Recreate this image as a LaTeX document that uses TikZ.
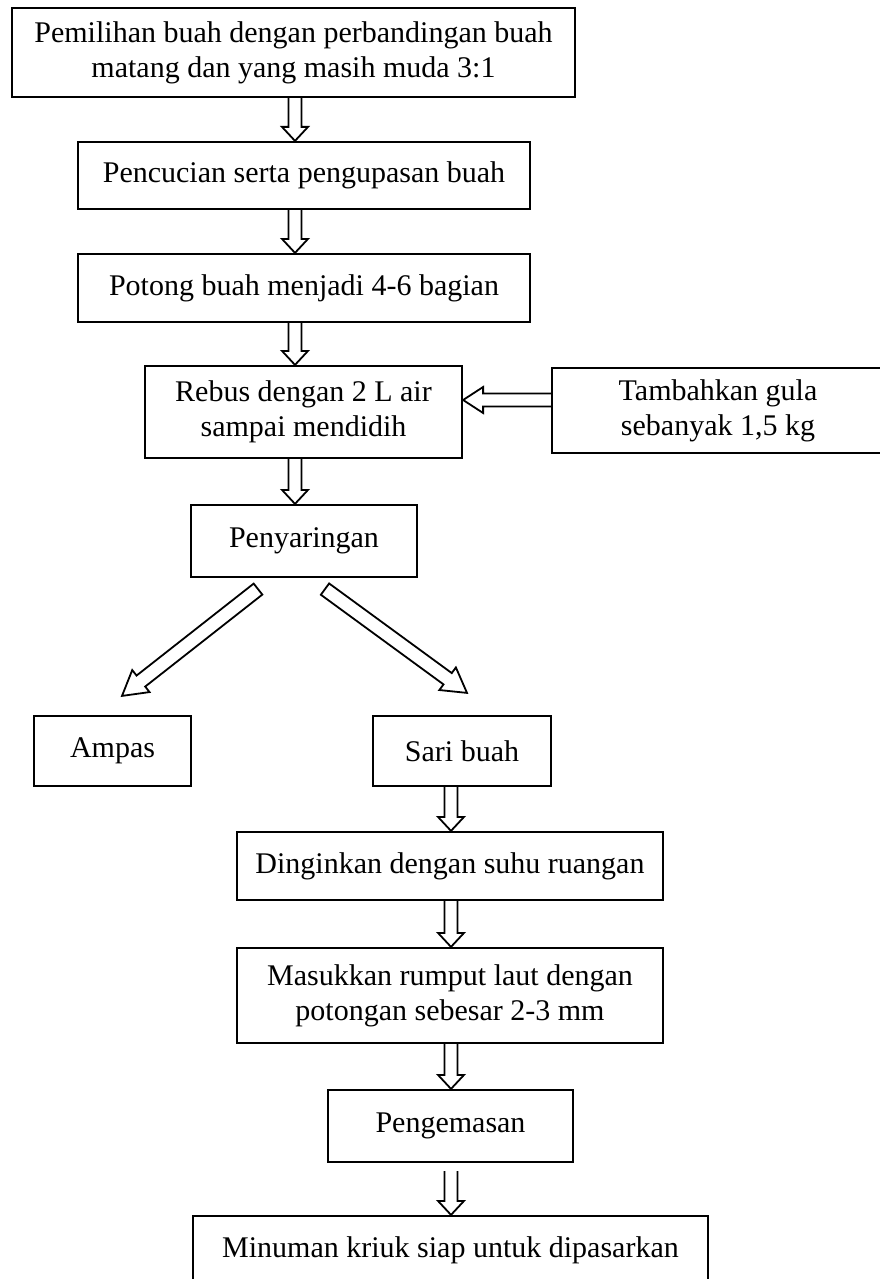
\documentclass[tikz,border=0pt]{standalone}
\usepackage{fontspec}
\setmainfont{Liberation Serif}
\usetikzlibrary{calc}
\tikzset{
  box/.style={draw, line width=2.2pt, align=center, inner sep=0pt,
    font=\fontsize{30}{35}\selectfont},
  barrow/.style={draw, line width=1.8pt, line join=miter},
}
% hollow block arrow from #2 to #3, head length #1 (open tail)
\newcommand\blockarrow[3][14]{%
  \path #2; \pgfgetlastxy{\bax}{\bay}%
  \path #3; \pgfgetlastxy{\bbx}{\bby}%
  \pgfmathsetmacro\bang{atan2((\bby)-(\bay),(\bbx)-(\bax))}%
  \pgfmathsetmacro\blen{veclen((\bbx)-(\bax),(\bby)-(\bay))}%
  \pgfmathsetmacro\bbase{\blen-#1}%
  \begin{scope}[shift={(\bax,\bay)},rotate=\bang]
    \draw[barrow] (0pt,-6.5pt) -- (\bbase pt,-6.5pt) -- (\bbase pt,-13pt)
      -- (\blen pt,0pt) -- (\bbase pt,13pt) -- (\bbase pt,6.5pt) -- (0pt,6.5pt);
  \end{scope}}
% same with closed tail
\newcommand\closedarrow[3][14]{%
  \path #2; \pgfgetlastxy{\bax}{\bay}%
  \path #3; \pgfgetlastxy{\bbx}{\bby}%
  \pgfmathsetmacro\bang{atan2((\bby)-(\bay),(\bbx)-(\bax))}%
  \pgfmathsetmacro\blen{veclen((\bbx)-(\bax),(\bby)-(\bay))}%
  \pgfmathsetmacro\bbase{\blen-#1}%
  \begin{scope}[shift={(\bax,\bay)},rotate=\bang]
    \draw[barrow] (0pt,-7pt) -- (\bbase pt,-7pt) -- (\bbase pt,-14pt)
      -- (\blen pt,0pt) -- (\bbase pt,14pt) -- (\bbase pt,7pt) -- (0pt,7pt) -- cycle;
  \end{scope}}
\begin{document}
\begin{tikzpicture}[x=1pt,y=-1pt]
\useasboundingbox (0,0) rectangle (880,1279);
\clip (0,0) rectangle (880,1279);
\fill[white] (0,0) rectangle (880,1279);

\node[box, minimum width=563, minimum height=89] (b1) at (293.5,52.5)
  {Pemilihan buah dengan perbandingan buah\\matang dan yang masih muda 3:1};
\node[box, minimum width=452, minimum height=67] (b2) at (304,175.5)
  {Pencucian serta pengupasan buah};
\node[box, minimum width=452, minimum height=68] (b3) at (304,288)
  {Potong buah menjadi 4-6 bagian};
\node[box, minimum width=317, minimum height=92] (reb) at (303.5,412)
  {Rebus dengan 2 L air\\sampai mendidih};
\node[box, minimum width=332, minimum height=85] (tam) at (718,410.5)
  {Tambahkan gula\\sebanyak 1,5 kg};
\node[box, minimum width=226, minimum height=72] (pen) at (304,541)
  {Penyaringan};
\node[box, minimum width=157, minimum height=70] (amp) at (112.5,751)
  {Ampas};
\node[box, minimum width=178, minimum height=70] (sari) at (462,751)
  {Sari buah};
\node[box, minimum width=426, minimum height=68] (din) at (450,866)
  {Dinginkan dengan suhu ruangan};
\node[box, minimum width=426, minimum height=95] (mas) at (450,995.5)
  {Masukkan rumput laut dengan\\potongan sebesar 2-3 mm};
\node[box, minimum width=245, minimum height=72] (peng) at (450.5,1126)
  {Pengemasan};
\node[box, minimum width=515, minimum height=68] (min) at (450.5,1250)
  {Minuman kriuk siap untuk dipasarkan};

% reference columns / rows for connectors
\coordinate (colA) at (295,0);
\coordinate (colB) at (451,0);
\coordinate (rowH) at (0,400);

\blockarrow{(b1.south -| colA)}{(b2.north -| colA)}
\blockarrow{(b2.south -| colA)}{(b3.north -| colA)}
\blockarrow{(b3.south -| colA)}{(reb.north -| colA)}
\blockarrow[20]{(tam.west |- rowH)}{(reb.east |- rowH)}
\blockarrow{(reb.south -| colA)}{(pen.north -| colA)}
\closedarrow[24]{($(pen.south)+(-46,11)$)}{($(amp.north)+(9.5,-19)$)}
\closedarrow[24]{($(pen.south)+(21,11)$)}{($(sari.north)+(5,-22)$)}
\blockarrow{(sari.south -| colB)}{(din.north -| colB)}
\blockarrow{(din.south -| colB)}{(mas.north -| colB)}
\blockarrow{(mas.south -| colB)}{(peng.north -| colB)}
\blockarrow{($(peng.south -| colB)+(0,8)$)}{(min.north -| colB)}
\end{tikzpicture}
\end{document}
